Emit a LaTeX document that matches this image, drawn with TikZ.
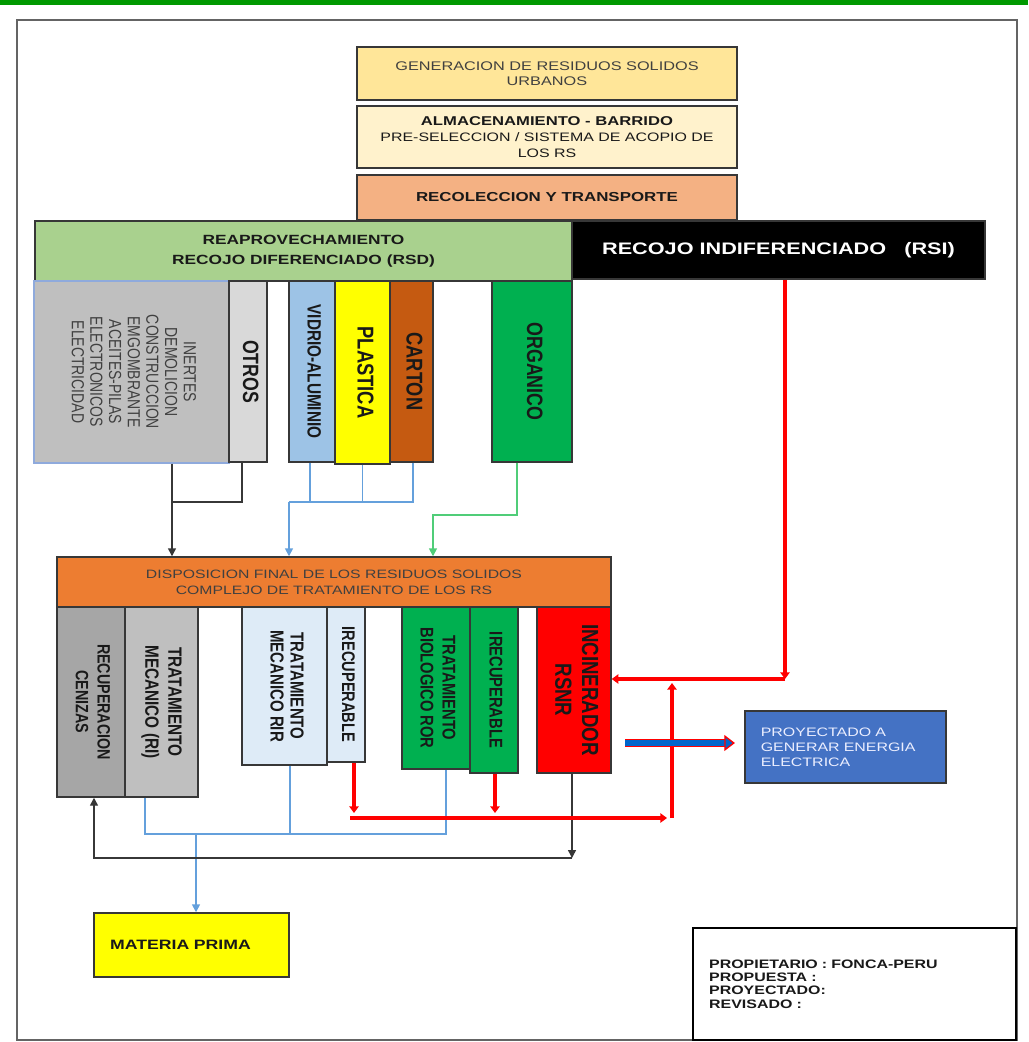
\documentclass[tikz,border=0pt]{standalone}
\usepackage{fontspec}
\setmainfont{Liberation Sans}[FakeStretch=1.3]
\newfontfamily\vfont{Liberation Sans}[FakeStretch=0.8]
\usepackage{graphicx}
\usepackage{tikz}
\usetikzlibrary{arrows.meta,positioning,calc}
\definecolor{ink}{RGB}{25,25,25}
\definecolor{softink}{RGB}{64,64,64}
\definecolor{edge}{RGB}{55,55,55}
\definecolor{framegray}{RGB}{100,100,100}
\definecolor{bandgreen}{RGB}{0,153,0}
\definecolor{gensand}{RGB}{255,230,153}
\definecolor{cream}{RGB}{255,242,204}
\definecolor{salmon}{RGB}{244,177,131}
\definecolor{leaf}{RGB}{169,209,142}
\definecolor{stone}{RGB}{191,191,191}
\definecolor{stoneedge}{RGB}{143,170,220}
\definecolor{ash}{RGB}{217,217,217}
\definecolor{sky}{RGB}{157,195,230}
\definecolor{lemon}{RGB}{255,255,0}
\definecolor{rust}{RGB}{197,90,17}
\definecolor{grass}{RGB}{0,176,80}
\definecolor{pumpkin}{RGB}{237,125,49}
\definecolor{slate}{RGB}{166,166,166}
\definecolor{ice}{RGB}{222,235,247}
\definecolor{fire}{RGB}{255,0,0}
\definecolor{royal}{RGB}{68,114,196}
\definecolor{wire}{RGB}{100,160,220}
\definecolor{mint}{RGB}{80,205,120}
\definecolor{cable}{RGB}{0,102,204}
\definecolor{paleink}{RGB}{235,238,255}
\newcommand{\sidetext}[3]{\rotatebox{-90}{\fontsize{#1}{#2}\selectfont\begin{tabular}{@{}c@{}}#3\end{tabular}}}
\tikzset{
  dims/.style 2 args={minimum width=#1*0.75pt,minimum height=#2*0.75pt},
  stage/.style={draw=edge,line width=1.1pt,inner sep=0pt,align=center,text=ink},
  column/.style={stage,font=\vfont\bfseries},
  plain/.style={line width=1.1pt,edge},
  waste/.style={plain,-{Triangle[length=6pt,width=6pt]}},
  reuse/.style={line width=1.2pt,wire},
  reusearrow/.style={reuse,-{Triangle[length=6pt,width=6pt]}},
  compost/.style={line width=1.2pt,mint,-{Triangle[length=6pt,width=6pt]}},
  reject/.style={line width=2.4pt,fire,-{Triangle[length=5pt,width=7pt]}},
  power/.style={draw=fire,line width=1pt,double=cable,double distance=3.8pt,
    -{Triangle[length=8pt,width=12pt,fill=cable]}}
}
\begin{document}
\begin{tikzpicture}[x=0.75pt,y=-0.75pt]
  \useasboundingbox (0,0) rectangle (1028,1042);
  \fill[bandgreen] (0,0) rectangle (1028,5);
  \draw[framegray,line width=1.4pt] (17,20) rectangle (1017,1040);
  % flujo principal
  \node[stage,fill=gensand,text=softink,dims={380}{53},
    font=\fontsize{9.4}{11.25}\selectfont] (gen) at (547,73.5) {GENERACION DE RESIDUOS SOLIDOS\\URBANOS};
  \node[stage,fill=cream,dims={380}{62},
    font=\fontsize{9.2}{12}\selectfont] (alm) at (547,137)
    {{\bfseries\fontsize{9.6}{12}\selectfont ALMACENAMIENTO - BARRIDO}\\PRE-SELECCION / SISTEMA DE ACOPIO DE\\LOS RS};
  \node[stage,fill=salmon,dims={380}{45},
    font=\bfseries\fontsize{9.75}{12}\selectfont] (rec) at (547,197.5) {RECOLECCION Y TRANSPORTE};
  \node[stage,fill=leaf,dims={537}{60},
    font=\bfseries\fontsize{10}{15}\selectfont] (reap) at (303.5,251) {REAPROVECHAMIENTO\\RECOJO DIFERENCIADO (RSD)};
  \node[stage,fill=black,text=white,dims={413}{58},
    font=\bfseries\fontsize{12.5}{15}\selectfont] (rsi) at (778.5,250) {RECOJO INDIFERENCIADO\ \ \ (RSI)};
  % recojo diferenciado
  \node[column,fill=stone,draw=stoneedge,text=softink,dims={195}{182},font=\vfont] (inert) at (131.5,372)
    {\sidetext{13.1}{14}{INERTES\\DEMOLICION\\CONSTRUCCION\\EMGOMBRANTE\\ACEITES-PILAS\\ELECTRONICOS\\ELECTRICIDAD}};
  \node[column,fill=ash,dims={38}{181}] (otros) at (248,371.5) {\sidetext{16.6}{18}{OTROS}};
  \node[column,fill=sky,dims={46}{181}] (vidrio) at (312,371.5) {\sidetext{14.4}{16}{VIDRIO-ALUMINIO}};
  \node[column,fill=lemon,dims={55}{183}] (plast) at (362.5,372.5) {\sidetext{17.2}{18}{PLASTICA}};
  \node[column,fill=rust,dims={43}{181}] (carton) at (411.5,371.5) {\sidetext{17.1}{18}{CARTON}};
  \node[column,fill=grass,dims={80}{181}] (org) at (532,371.5) {\sidetext{16.7}{18}{ORGANICO}};
  % disposicion final
  \node[stage,fill=pumpkin,text=softink,dims={554}{50},
    font=\fontsize{9.1}{12}\selectfont] (dispo) at (334,582)
    {DISPOSICION FINAL DE LOS RESIDUOS SOLIDOS\\COMPLEJO DE TRATAMIENTO DE LOS RS};
  \node[column,fill=slate,dims={68}{190}] (cen) at (91,702) {\sidetext{13.4}{16.3}{RECUPERACION\\CENIZAS}};
  \node[column,fill=stone,dims={73}{190}] (tmri) at (161.5,702) {\sidetext{14.4}{17.3}{TRATAMIENTO\\MECANICO (RI)}};
  \node[column,fill=ice,dims={85}{158}] (tmrir) at (284.5,686) {\sidetext{14.1}{15}{TRATAMIENTO\\MECANICO RIR}};
  \node[column,fill=ice,dims={38}{155}] (irec1) at (346,684.5) {\sidetext{13.7}{15}{IRECUPERABLE}};
  \node[column,fill=grass,dims={68}{162}] (tbio) at (436,688) {\sidetext{13.8}{16.5}{TRATAMIENTO\\BIOLOGICO ROR}};
  \node[column,fill=grass,dims={48}{166}] (irec2) at (494,690) {\sidetext{13.8}{16}{IRECUPERABLE}};
  \node[column,fill=fire,dims={74}{166}] (inc) at (574,690) {\sidetext{17.5}{20}{INCINERADOR\\RSNR}};
  \node[stage,fill=royal,text=paleink,dims={201}{72},align=left,text width=127pt,
    font=\fontsize{9.2}{11.25}\selectfont] (proy) at (845.5,747) {PROYECTADO A\\GENERAR ENERGIA\\ELECTRICA};
  \node[stage,fill=lemon,dims={195}{64},align=left,text width=122pt,
    font=\bfseries\fontsize{10.2}{12}\selectfont] (mat) at (191.5,945) {MATERIA PRIMA};
  \node[stage,draw=black,line width=0.9pt,fill=white,dims={323}{112},align=left,text width=218pt,
    font=\bfseries\fontsize{9.2}{10}\selectfont] (info) at (854.5,984)
    {PROPIETARIO : FONCA-PERU\\PROPUESTA :\\PROYECTADO:\\REVISADO :};
  % conexiones hacia disposicion final
  \coordinate (kIn) at (172,502);
  \coordinate (kOt) at (242,502);
  \draw[plain] (otros.south -| kOt) -- (kOt) -- (kIn);
  \draw[waste] (inert.south -| kIn) -- (kIn |- dispo.north);
  \coordinate (bV) at (310,502);
  \coordinate (bC) at (413,502);
  \coordinate (bD) at (289,502);
  \draw[reuse] (vidrio.south -| bV) -- (bV);
  \draw[reuse] (plast.south) -- (plast.south |- bV);
  \draw[reuse] (carton.south -| bC) -- (bC) -- (bD);
  \draw[reusearrow] (bD) -- (bD |- dispo.north);
  \coordinate (gO) at (517,515);
  \coordinate (gD) at (433,515);
  \draw[compost] (org.south -| gO) -- (gO) -- (gD) -- (gD |- dispo.north);
  % materia prima y cenizas
  \coordinate (mL) at (145,834);
  \coordinate (mC) at (290,834);
  \coordinate (mR) at (446,834);
  \coordinate (mD) at (196,834);
  \draw[reuse] (tmri.south -| mL) -- (mL) -- (mR) -- (tbio.south -| mR);
  \draw[reuse] (tmrir.south -| mC) -- (mC);
  \draw[reusearrow] (mD) -- (mD |- mat.north);
  \coordinate (aR) at (572,858);
  \coordinate (aL) at (94,858);
  \draw[waste] (inc.south -| aR) -- (aR);
  \draw[waste] (aR) -- (aL) -- (aL |- cen.south);
  % rechazos al incinerador
  \coordinate (rS) at (785,679);
  \draw[reject] (rsi.south -| rS) -- (rS);
  \draw[reject] (rS) -- (rS -| inc.east);
  \coordinate (r1) at (354,813);
  \coordinate (r2) at (495,813);
  \coordinate (rL) at (350,818);
  \coordinate (rR) at (667,818);
  \coordinate (rU) at (672,818);
  \draw[reject] (irec1.south -| r1) -- (r1);
  \draw[reject] (irec2.south -| r2) -- (r2);
  \draw[reject] (rL) -- (rR);
  \draw[reject] (rU) -- ([yshift=-3pt]rU |- rS);
  \coordinate (pS) at (625,743);
  \draw[power,shorten >=7pt] (pS) -- (pS -| proy.west);
\end{tikzpicture}
\end{document}
